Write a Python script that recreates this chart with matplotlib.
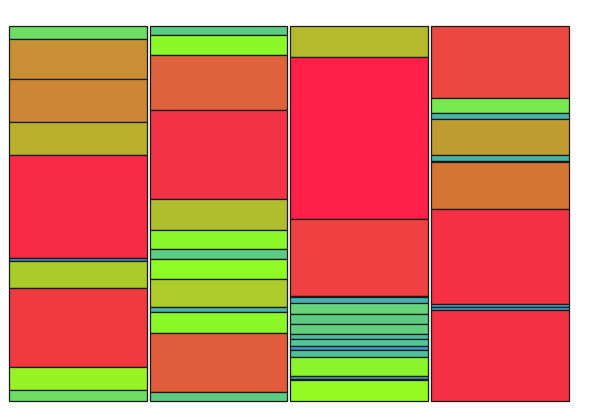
import matplotlib
matplotlib.use("Agg")
import matplotlib.pyplot as plt

# Column segments, listed top to bottom (relative sizes)
col1_values = [13.3, 40, 43, 33, 103, 2.4, 27.6, 78.7, 23, 11]
col1_colors = ["#6ddd63", "#c98f35", "#cc8634", "#b8b02a", "#f72b45", "#3a8fc0",
               "#aacb28", "#ef3b40", "#97f323", "#6ddd63"]

col2_values = [9.3, 19.7, 55.3, 89, 31, 19, 9.4, 20.3, 27.7, 5.6, 20.4, 59, 9.3]
col2_colors = ["#5ccb84", "#8bf82a", "#de623c", "#f23345", "#b0bd2c", "#8bf82b",
               "#5ccb84", "#90fa25", "#aecb2b", "#48b5a5", "#8bf82a", "#e05c3a", "#5ccb84"]

col3_values = [31, 162.3, 76.7, 1.3, 6, 10.4, 10, 10, 5.6, 7, 3.7, 6.7, 19, 3.6, 1, 20.7]
col3_colors = ["#b4ba2c", "#fe2048", "#ef4141", "#2a6f8f", "#44b4b0", "#65d57a",
               "#5ccb84", "#60cf7e", "#4bbba2", "#50c799", "#3a9ac9", "#4dc09c",
               "#8bf42d", "#3aa3bd", "#2a5a8a", "#94fa24"]

col4_values = [72.3, 14.7, 6, 36.3, 5.2, 1.8, 47, 95, 2.7, 3, 91]
col4_colors = ["#ea4840", "#78e850", "#48b4a8", "#c09c30", "#48b4a8", "#305070",
               "#d47534", "#f43044", "#3a9ec6", "#3a9ec6", "#f43044"]

columns = [(col1_values, col1_colors), (col2_values, col2_colors),
           (col3_values, col3_colors), (col4_values, col4_colors)]

W, H = 598, 408
fig = plt.figure(figsize=(W / 100, H / 100), dpi=100)
left_px, right_px, top_px, bot_px = 9, 568.5, 26, 401
ax = fig.add_axes([left_px / W, (H - bot_px) / H, (right_px - left_px) / W, (bot_px - top_px) / H])

bw = 0.979
total = 375.0
for i, (vals, cols) in enumerate(columns):
    s = sum(vals)
    cum = 0.0
    for v, c in zip(vals, cols):
        h = v / s * total
        ax.bar(i, h, bottom=cum, width=bw, color=c, edgecolor="#1a1a1a",
               linewidth=0.9, align="center", clip_on=False)
        cum += h

ax.set_xlim(-bw / 2, 3 + bw / 2)
ax.set_ylim(total, 0)
ax.axis("off")

fig.savefig("out.png", dpi=100)
